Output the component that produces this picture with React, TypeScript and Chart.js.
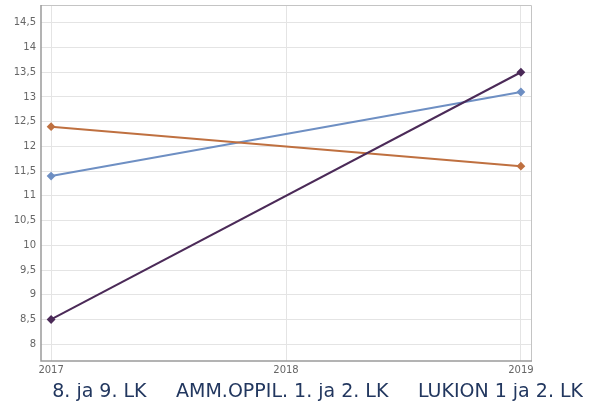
import React, { useEffect, useRef } from 'react';
import { Chart, registerables } from 'chart.js';

Chart.register(...registerables);

const years = [2017, 2019];
const xTickValues = [2017, 2018, 2019];
const yTickValues = [8, 8.5, 9, 9.5, 10, 10.5, 11, 11.5, 12, 12.5, 13, 13.5, 14, 14.5];
const seriesNames = ['8. ja 9. LK', 'AMM.OPPIL. 1. ja 2. LK', 'LUKION 1 ja 2. LK'];
const series1 = [8.5, 13.5];
const series2 = [12.4, 11.6];
const series3 = [11.4, 13.1];
const seriesColors = ['#4b2a58', '#bf7040', '#6e8fc3'];

const boxPlugin = {
  id: 'plotBox',
  afterDatasetsDraw(chart: any) {
    const { ctx, chartArea: a } = chart;
    ctx.save();
    ctx.lineWidth = 1;
    ctx.strokeStyle = '#c4c4c4';
    ctx.beginPath();
    ctx.moveTo(a.left, a.top + 0.5);
    ctx.lineTo(a.right + 0.5, a.top + 0.5);
    ctx.lineTo(a.right + 0.5, a.bottom);
    ctx.stroke();
    ctx.strokeStyle = '#9a9a9a';
    ctx.lineWidth = 1.5;
    ctx.beginPath();
    ctx.moveTo(a.left, a.top);
    ctx.lineTo(a.left, a.bottom);
    ctx.lineTo(a.right + 1, a.bottom);
    ctx.stroke();
    ctx.restore();
  },
};

export default function App() {
  const ref = useRef<HTMLCanvasElement>(null);
  useEffect(() => {
    if (!ref.current) return;
    const data = [series1, series2, series3];
    const chart = new Chart(ref.current, {
      type: 'line',
      data: {
        datasets: seriesNames.map((name, i) => ({
          label: name,
          data: years.map((y, j) => ({ x: y, y: data[i][j] })),
          borderColor: seriesColors[i],
          backgroundColor: seriesColors[i],
          borderWidth: 2,
          tension: 0,
          pointStyle: 'rectRot',
          pointRadius: 3,
          pointHoverRadius: 3,
          yAxisID: 'y',
        })),
      },
      options: {
        responsive: false,
        animation: false,
        layout: { padding: { top: 0, right: 15, left: 0, bottom: 0 } },
        plugins: {
          tooltip: { enabled: false },
          legend: {
            position: 'bottom',
            align: 'end',
            maxHeight: 23,
            labels: {
              boxWidth: 20,
              boxHeight: 19,
              padding: 0,
              color: '#22375f',
              font: { family: 'DejaVu Sans', size: 19 },
              generateLabels: (c: any) =>
                Chart.defaults.plugins.legend.labels.generateLabels(c).map((l: any) => ({
                  ...l,
                  fillStyle: 'rgba(0,0,0,0)',
                  strokeStyle: 'rgba(0,0,0,0)',
                  lineWidth: 0,
                  fontColor: '#22375f',
                })),
            },
          },
        },
        scales: {
          x: {
            type: 'linear',
            min: 2016.957,
            max: 2019.043,
            afterBuildTicks: (s: any) => {
              s.ticks = xTickValues.map((v) => ({ value: v }));
            },
            afterFit: (s: any) => {
              s.height = 22;
            },
            grid: { color: '#e4e4e4', drawTicks: false },
            border: { display: false },
            ticks: {
              padding: 3,
              maxRotation: 0,
              color: '#666',
              font: { family: 'DejaVu Sans', size: 10 },
              callback: (v: any) => String(v),
            },
          },
          y: {
            type: 'linear',
            position: 'left',
            min: 7.66,
            max: 14.86,
            afterBuildTicks: (s: any) => {
              s.ticks = yTickValues.map((v) => ({ value: v }));
            },
            afterFit: (s: any) => {
              s.width = 41;
            },
            grid: { color: '#e4e4e4', drawTicks: false },
            border: { display: false },
            ticks: {
              padding: 5,
              color: '#666',
              font: { family: 'DejaVu Sans', size: 10 },
              callback: (v: any) => String(v).replace('.', ','),
            },
          },
          yR: {
            type: 'linear',
            position: 'right',
            display: true,
            grid: { display: false, drawTicks: false },
            border: { display: false },
            ticks: { display: false },
            afterFit: (s: any) => {
              s.width = 52;
            },
          },
        },
      },
      plugins: [boxPlugin],
    } as any);
    return () => chart.destroy();
  }, []);
  return (
    <div style={{ position: 'fixed', left: 0, top: 0, width: 598, height: 406, background: '#fff', overflow: 'hidden' }}>
      <canvas ref={ref} width={598} height={412} style={{ position: 'absolute', left: 0, top: -6 }} />
    </div>
  );
}
